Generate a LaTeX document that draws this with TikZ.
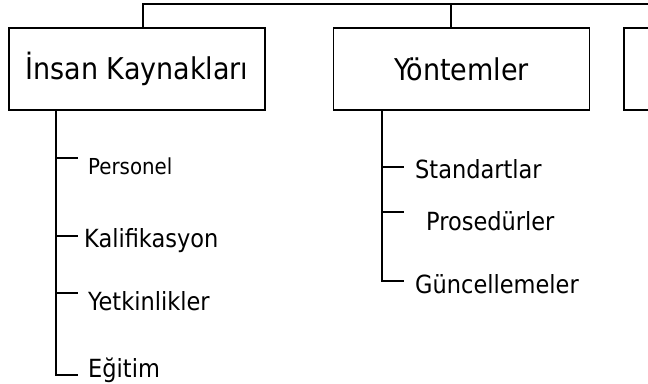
\documentclass[tikz,border=0pt]{standalone}
\usepackage{fontspec}
\setmainfont{DejaVu Sans Condensed}
\usepackage{tikz}
\usetikzlibrary{positioning, calc}

\tikzset{
  kutu/.style={draw, line width=1.1pt, minimum width=256pt, minimum height=82pt, inner sep=0pt, font=\fontsize{30}{34}\selectfont},
  alt/.style={anchor=base west, inner sep=0pt, font=\fontsize{25}{28}\selectfont},
  cizgi/.style={line width=1.1pt}
}

\begin{document}
\begin{tikzpicture}[x=1pt, y=-1pt]
\clip (0,0) rectangle (648,383);
\fill[white] (0,0) rectangle (648,383);

% ana kutular
\node[kutu] (ik) at (137,69) {İnsan Kaynakları};
\node[kutu] (yon) at (461.5,69) {Yöntemler};
\node[kutu] (ucuncu) at (752,69) {};

% ust baglanti
\coordinate (ust) at (143,4);
\coordinate (yonust) at (451,4);
\draw[cizgi] (ik.north -| ust) -- (ust) -- (ucuncu.north |- ust) -- (ucuncu.north);
\draw[cizgi] (yonust) -- (yon.north -| yonust);

% insan kaynaklari alt basliklari
\node[alt, font=\fontsize{22}{26}\selectfont] (personel) at (88,174) {Personel};
\node[alt] (kalif) at (84,247) {Kalifikasyon};
\node[alt] (yetkin) at (88,310) {Yetkinlikler};
\node[alt] (egitim) at (88,377) {Eğitim};

\coordinate (ikkok) at (56,0);
\coordinate (t1) at (78,158);
\coordinate (t2) at (78,236);
\coordinate (t3) at (78,293);
\coordinate (t4) at (78,375);
\draw[cizgi] (ik.south -| ikkok) |- (t4);
\foreach \t in {t1,t2,t3}
  \draw[cizgi] (ikkok |- \t) -- (\t);

% yontemler alt basliklari
\node[alt] (standart) at (415,178) {Standartlar};
\node[alt] (prosedur) at (426,230) {Prosedürler};
\node[alt] (guncel) at (415,293) {Güncellemeler};

\coordinate (yonkok) at (382,0);
\coordinate (s1) at (404,167);
\coordinate (s2) at (404,212);
\coordinate (s3) at (404,281);
\draw[cizgi] (yon.south -| yonkok) |- (s3);
\foreach \s in {s1,s2}
  \draw[cizgi] (yonkok |- \s) -- (\s);
\end{tikzpicture}
\end{document}
